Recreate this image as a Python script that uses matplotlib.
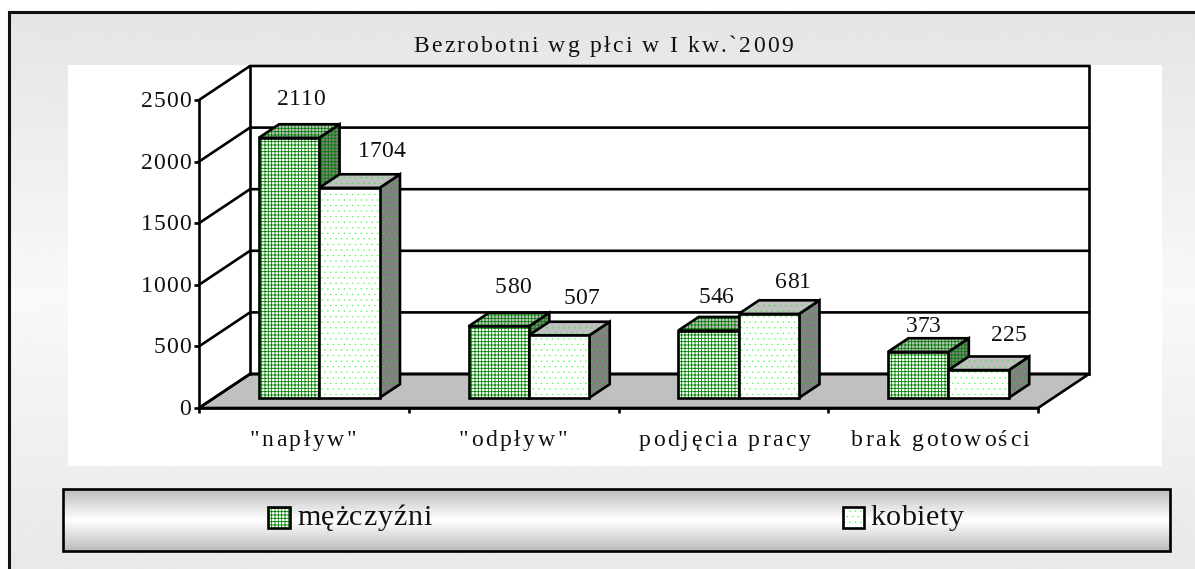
import matplotlib
matplotlib.use('Agg')
import matplotlib.pyplot as plt
import matplotlib.font_manager as fm
import numpy as np
from matplotlib.patches import Polygon, Rectangle
from matplotlib.text import Text

plt.rcParams['font.family'] = ['Liberation Serif', 'DejaVu Serif']

# dane
title = 'Bezrobotni wg płci w I kw.`2009'
categories = ['"napływ"', '"odpływ"', 'podjęcia pracy', 'brak gotowości']
series_names = ['mężczyźni', 'kobiety']
men = [2110, 580, 546, 373]
women = [1704, 507, 681, 225]
y_ticks = [0, 500, 1000, 1500, 2000, 2500]

W, H = 1195, 569
LW = 1.9
FS = 17
GREEN = '#008000'
LIME = '#00ff00'
GRID_HATCH = '+++++'
DOT_HATCH = '...'
HATCH_LW = {GRID_HATCH: 0.6, DOT_HATCH: 0.1}

# osie "przednie": piksele obrazka
AX_L, AX_R, AX_T, AX_B = 199, 1038, 100, 408
PX_X = (AX_R - AX_L) / len(categories)   # px na kategorie
PX_Y = (AX_B - AX_T) / y_ticks[-1]       # px na jednostke
DEPTH_X, DEPTH_Y = 51, 34                # glebokosc podlogi w px
BAR_W = 0.288
BAR_FRONT, BAR_BACK = 0.30, 0.70


class SpacedText(Text):
    """Tekst z rozstrzelonymi literami (tracking w px)."""

    def __init__(self, x, y, text, tracking=0, **kw):
        super().__init__(x, y, text, **kw)
        self.tracking = tracking

    def draw(self, renderer):
        if not self.get_visible():
            return
        s = self.get_text()
        prop = self.get_fontproperties()
        font = fm.get_font(fm.findfont(prop))
        font.set_size(prop.get_size_in_points(), self.get_figure().dpi)
        adv = []
        for ch in s:
            g = font.load_char(ord(ch))
            adv.append(g.linearHoriAdvance / 65536 + self.tracking)
        total = sum(adv) - self.tracking
        x, y = self.get_transform().transform(self.get_position())
        if self.get_ha() == 'center':
            x -= total / 2
        elif self.get_ha() == 'right':
            x -= total
        gc = renderer.new_gc()
        gc.set_foreground(self.get_color())
        for ch, a in zip(s, adv):
            if ch != ' ':
                renderer.draw_text(gc, x, renderer.height - y, ch, prop, 0, ismath=False)
            x += a
        gc.restore()


def proj(x, v, d):
    # punkt (kategoria, wartosc, glebokosc 0..1) -> wspolrzedne osi
    return x + d * DEPTH_X / PX_X, v + d * DEPTH_Y / PX_Y


def face(ax, pts, fc, hatch, hatch_color, zorder=2):
    plt.rcParams['hatch.linewidth'] = HATCH_LW[hatch]
    ax.add_patch(Polygon(pts, closed=True, facecolor=fc, edgecolor=hatch_color, hatch=hatch,
                         linewidth=0, clip_on=False, zorder=zorder))
    ax.add_patch(Polygon(pts, closed=True, fill=False, edgecolor='black', linewidth=LW,
                         joinstyle='miter', clip_on=False, zorder=zorder))


def draw_bar(ax, x0, x1, v, hatch, color):
    f0, f1 = BAR_FRONT, BAR_BACK
    front = [proj(x0, 0, f0), proj(x1, 0, f0), proj(x1, v, f0), proj(x0, v, f0)]
    side = [proj(x1, 0, f0), proj(x1, 0, f1), proj(x1, v, f1), proj(x1, v, f0)]
    top = [proj(x0, v, f0), proj(x1, v, f0), proj(x1, v, f1), proj(x0, v, f1)]
    face(ax, side, '#808080', hatch, color)
    face(ax, top, '#c0c0c0', hatch, color)
    face(ax, front, 'white', hatch, color)


fig = plt.figure(figsize=(W / 100, H / 100), dpi=100)

# tlo, ramka, biale pole wykresu, legenda - w pikselach
bg = fig.add_axes([0, 0, 1, 1])
bg.axis('off')
grad = np.interp(np.arange(H), [0, 290, H], [0.895, 0.975, 0.91]).reshape(-1, 1)
bg.imshow(grad, cmap='gray', vmin=0, vmax=1, extent=[9, W, H, 11], aspect='auto', zorder=0)
leg_grad = np.interp(np.linspace(0, 1, 64), [0, 0.5, 1], [0.74, 1.0, 0.74]).reshape(-1, 1)
bg.imshow(leg_grad, cmap='gray', vmin=0, vmax=1, extent=[63, 1170, 551, 489], aspect='auto', zorder=1)
bg.set_xlim(0, W)
bg.set_ylim(H, 0)
bg.plot([9.5, 9.5, W], [H, 11.5, 11.5], color='#111111', lw=2.2, zorder=2, solid_joinstyle='miter')
bg.add_patch(Rectangle((68, 65), 1094, 401, facecolor='white', edgecolor='none', zorder=1))
bg.add_patch(Rectangle((63, 489), 1107, 62, fill=False, edgecolor='black', linewidth=LW, zorder=2))
face(bg, [(268, 507), (290, 507), (290, 528), (268, 528)], 'white', GRID_HATCH, GREEN, zorder=3)
face(bg, [(843, 507), (864, 507), (864, 528), (843, 528)], 'white', DOT_HATCH, LIME, zorder=3)

fig.add_artist(SpacedText(603 / W, 1 - 52 / H, title, tracking=2.2, ha='center', fontsize=FS,
                          color='#111111', transform=fig.transFigure))
fig.add_artist(SpacedText(297 / W, 1 - 525 / H, series_names[0], tracking=0.8, ha='left', fontsize=21.6,
                          color='#111111', transform=fig.transFigure))
fig.add_artist(SpacedText(870 / W, 1 - 525 / H, series_names[1], tracking=0.6, ha='left', fontsize=21.6,
                          color='#111111', transform=fig.transFigure))

# wykres
ax = fig.add_axes([AX_L / W, 1 - AX_B / H, (AX_R - AX_L) / W, (AX_B - AX_T) / H])
ax.patch.set_visible(False)
ax.set_xlim(0, len(categories))
ax.set_ylim(0, y_ticks[-1])
for s in ['top', 'right']:
    ax.spines[s].set_visible(False)
for s in ['left', 'bottom']:
    ax.spines[s].set_linewidth(LW)
ax.set_xticks(range(len(categories) + 1))
ax.set_yticks(y_ticks)
ax.tick_params(length=3.5, width=LW, labelbottom=False, labelleft=False)

n = len(categories)
ax.add_patch(Polygon([proj(0, 0, 0), proj(n, 0, 0), proj(n, 0, 1), proj(0, 0, 1)], closed=True,
                     facecolor='#c0c0c0', edgecolor='black', linewidth=LW, clip_on=False, zorder=0.5))
for t in y_ticks:
    p0, p1, p2 = proj(0, t, 0), proj(0, t, 1), proj(n, t, 1)
    ax.plot([p0[0], p1[0], p2[0]], [p0[1], p1[1], p2[1]], color='black', lw=LW, clip_on=False, zorder=1)
b0, b1 = proj(0, 0, 1), proj(0, y_ticks[-1], 1)
ax.plot([b0[0], b1[0]], [b0[1], b1[1]], color='black', lw=LW, clip_on=False, zorder=1)
b0, b1 = proj(n, 0, 1), proj(n, y_ticks[-1], 1)
ax.plot([b0[0], b1[0]], [b0[1], b1[1]], color='black', lw=LW, clip_on=False, zorder=1)

# przesuniecia opisow wartosci wzgledem srodka przedniej sciany, px
men_dx, men_dy = [12, 14, 8, 5], [33, 33, 28, 20]
women_dx, women_dy = [32, 22, 24, 30], [31, 31, 26, 29]
cat_dx = [-1, -1, 1, 7]

for i in range(n):
    xc = i + 0.5
    draw_bar(ax, xc - BAR_W, xc, men[i], GRID_HATCH, GREEN)
    draw_bar(ax, xc, xc + BAR_W, women[i], DOT_HATCH, LIME)
    for val, left, dx, dy in [(men[i], xc - BAR_W, men_dx[i], men_dy[i]),
                              (women[i], xc, women_dx[i], women_dy[i])]:
        p = proj(left + BAR_W / 2, val, BAR_FRONT)
        ax.add_artist(SpacedText(p[0] + dx / PX_X, p[1] + dy / PX_Y, str(val), ha='center', tracking=0,
                                 fontsize=FS, color='#111111', transform=ax.transData))
    ax.add_artist(SpacedText(xc + cat_dx[i] / PX_X, -38 / PX_Y, categories[i], ha='center', tracking=2.6,
                             fontsize=FS, color='#111111', transform=ax.transData))

for t in y_ticks:
    ax.add_artist(SpacedText(-8 / PX_X, t - 7 / PX_Y, str(t), ha='right', tracking=1,
                             fontsize=FS, color='#111111', transform=ax.transData))

fig.savefig('out.png', dpi=100)
